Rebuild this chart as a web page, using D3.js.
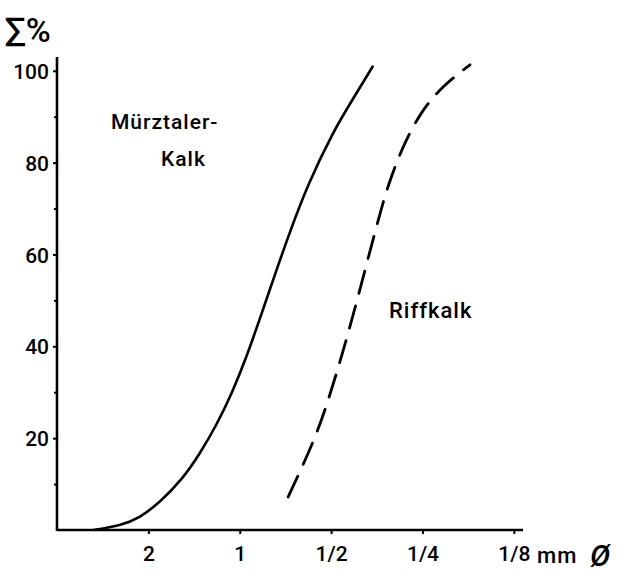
<!DOCTYPE html>
<html><head><meta charset="utf-8">
<script src="https://cdn.jsdelivr.net/npm/d3@7"></script>
<style>
body{margin:0;background:#fff}
svg text{font-family:Roboto,"DejaVu Sans",sans-serif;fill:#000;font-weight:500}
</style>
</head><body><svg id="c" width="620" height="572"></svg>
<script>
// grain size in phi units (2 mm = -1, 1 mm = 0, 1/2 = 1, 1/4 = 2, 1/8 = 3)
const sizeTicks = [-1, 0, 1, 2, 3];
const sizeLabels = ["2", "1", "1/2", "1/4", "1/8"];
const pctTicks = [20, 40, 60, 80, 100];
const pctMinor = [10, 30, 50, 70, 90];

// Mürztaler-Kalk (solid)
const muerzPhi = [-1.60, -1.30, -1.10, -0.88, -0.63, -0.44, -0.25, -0.08, 0.08, 0.22, 0.40, 0.55, 0.74, 1.02, 1.24, 1.46];
const muerzPct = [0, 1.0, 2.6, 5.9, 11.0, 16.5, 23.0, 30.0, 38.0, 46.0, 56.5, 65.0, 75.0, 86.7, 93.9, 101.1];

// Riffkalk (dashed)
const riffPhi = [0.53, 0.82, 0.96, 1.08, 1.19, 1.30, 1.40, 1.51, 1.62, 1.78, 1.98, 2.23, 2.52];
const riffPct = [7.2, 19.6, 27.7, 35.5, 43.1, 51.2, 58.8, 67.1, 75.0, 83.4, 91.1, 96.9, 101.3];

const svg = d3.select("#c");
const x = d3.scaleLinear().domain([-2.0, 3.1]).range([57, 523]);
const y = d3.scaleLinear().domain([0, 103]).range([530, 57]);

// Y axis
const yAxis = d3.axisLeft(y).tickValues(pctTicks).tickSize(4).tickPadding(4).tickFormat(d3.format("d"));
const gy = svg.append("g").attr("transform", `translate(${x(-2.0)},0)`).call(yAxis);
gy.select(".domain").remove();
gy.selectAll(".tick line").attr("stroke", "#000").attr("stroke-width", 2);
gy.selectAll(".tick text").attr("font-size", 21).attr("dy", "0.36em");
const gym = svg.append("g").attr("transform", `translate(${x(-2.0)},0)`)
  .call(d3.axisLeft(y).tickValues(pctMinor).tickSize(3).tickFormat(""));
gym.select(".domain").remove();
gym.selectAll(".tick line").attr("stroke", "#000").attr("stroke-width", 2);

// X axis
const xAxis = d3.axisBottom(x).tickValues(sizeTicks).tickSize(4).tickPadding(12)
  .tickFormat((d, i) => sizeLabels[i]);
const gx = svg.append("g").attr("transform", `translate(0,${y(0)})`).call(xAxis);
gx.select(".domain").remove();
gx.selectAll(".tick line").attr("stroke", "#000").attr("stroke-width", 2);
gx.selectAll(".tick text").attr("font-size", 21);

// axis lines
svg.append("line").attr("x1", x(-2.0)).attr("x2", x(-2.0)).attr("y1", y(0) + 1).attr("y2", y(103))
  .attr("stroke", "#000").attr("stroke-width", 2.6);
svg.append("line").attr("x1", x(-2.0)).attr("x2", x(3.1)).attr("y1", y(0)).attr("y2", y(0))
  .attr("stroke", "#000").attr("stroke-width", 2.6);

// curves
const line = d3.line().x(d => x(d[0])).y(d => y(d[1])).curve(d3.curveBasis);
svg.append("path").datum(muerzPhi.map((p, i) => [p, muerzPct[i]]))
  .attr("d", line).attr("fill", "none").attr("stroke", "#000").attr("stroke-width", 2.6);
svg.append("path").datum(riffPhi.map((p, i) => [p, riffPct[i]]))
  .attr("d", line).attr("fill", "none").attr("stroke", "#000").attr("stroke-width", 2.8)
  .attr("stroke-dasharray", "23,13").attr("stroke-linecap", "round");

// labels
svg.append("text").attr("x", 5).attr("y", 42).attr("font-size", 34).text("∑%");
svg.append("text").attr("x", 537).attr("y", 563).attr("font-size", 22).attr("letter-spacing", 1).text("mm");
svg.append("text").attr("x", 590).attr("y", 566).attr("font-size", 30).attr("font-style", "italic").text("Ø");
svg.append("text").attr("x", 111).attr("y", 129).attr("font-size", 21).attr("letter-spacing", 1).text("Mürztaler-");
svg.append("text").attr("x", 161).attr("y", 166).attr("font-size", 21).attr("letter-spacing", 1).text("Kalk");
svg.append("text").attr("x", 389).attr("y", 318).attr("font-size", 22).attr("letter-spacing", 1).text("Riffkalk");
</script>
</body></html>
